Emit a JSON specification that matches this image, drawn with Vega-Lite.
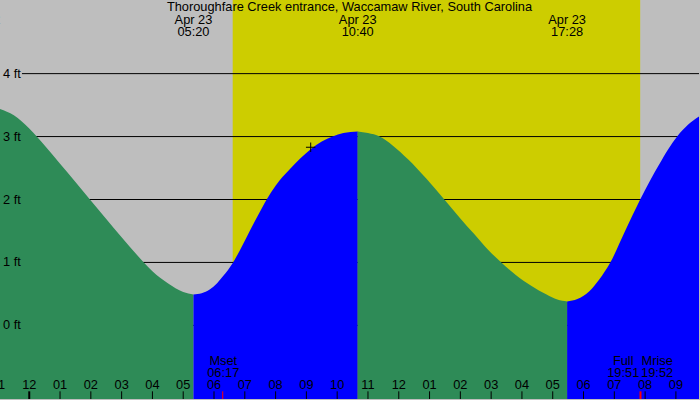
{
  "$schema": "https://vega.github.io/schema/vega-lite/v6.json",
  "width": 700,
  "height": 400,
  "autosize": {"type": "fit", "contains": "padding"},
  "padding": 0,
  "background": "#BEBEBE",
  "config": {
    "view": {"stroke": null},
    "text": {"font": "Liberation Sans", "fontSize": 12.8, "color": "black"}
  },
  "datasets": {
    "daylight": [{"start": 6.607, "end": 19.84}],
    "grid": [{"ft": 0}, {"ft": 1}, {"ft": 2}, {"ft": 3}, {"ft": 4}],
    "ylabels": [
      {"ft": 0, "label": "0 ft"}, {"ft": 1, "label": "1 ft"}, {"ft": 2, "label": "2 ft"},
      {"ft": 3, "label": "3 ft"}, {"ft": 4, "label": "4 ft"}
    ],
    "tide": [
      {"seg": "fall1", "h": -0.95, "ft": 3.44},
      {"seg": "fall1", "h": -0.5, "ft": 3.34},
      {"seg": "fall1", "h": 0.0, "ft": 3.13},
      {"seg": "fall1", "h": 0.5, "ft": 2.86},
      {"seg": "fall1", "h": 1.0, "ft": 2.57},
      {"seg": "fall1", "h": 1.5, "ft": 2.28},
      {"seg": "fall1", "h": 1.97, "ft": 2.0},
      {"seg": "fall1", "h": 2.5, "ft": 1.69},
      {"seg": "fall1", "h": 3.0, "ft": 1.4},
      {"seg": "fall1", "h": 3.5, "ft": 1.12},
      {"seg": "fall1", "h": 3.72, "ft": 1.0},
      {"seg": "fall1", "h": 4.0, "ft": 0.86},
      {"seg": "fall1", "h": 4.5, "ft": 0.67},
      {"seg": "fall1", "h": 5.0, "ft": 0.53},
      {"seg": "fall1", "h": 5.333, "ft": 0.49},
      {"seg": "rise1", "h": 5.333, "ft": 0.49},
      {"seg": "rise1", "h": 5.6, "ft": 0.51},
      {"seg": "rise1", "h": 5.86, "ft": 0.57},
      {"seg": "rise1", "h": 6.1, "ft": 0.67},
      {"seg": "rise1", "h": 6.29, "ft": 0.78},
      {"seg": "rise1", "h": 6.62, "ft": 1.0},
      {"seg": "rise1", "h": 6.9, "ft": 1.25},
      {"seg": "rise1", "h": 7.16, "ft": 1.5},
      {"seg": "rise1", "h": 7.43, "ft": 1.75},
      {"seg": "rise1", "h": 7.71, "ft": 2.0},
      {"seg": "rise1", "h": 8.0, "ft": 2.22},
      {"seg": "rise1", "h": 8.46, "ft": 2.48},
      {"seg": "rise1", "h": 9.14, "ft": 2.8},
      {"seg": "rise1", "h": 9.5, "ft": 2.92},
      {"seg": "rise1", "h": 9.85, "ft": 3.0},
      {"seg": "rise1", "h": 10.2, "ft": 3.055},
      {"seg": "rise1", "h": 10.667, "ft": 3.08},
      {"seg": "fall2", "h": 10.667, "ft": 3.08},
      {"seg": "fall2", "h": 11.0, "ft": 3.055},
      {"seg": "fall2", "h": 11.38, "ft": 3.0},
      {"seg": "fall2", "h": 11.8, "ft": 2.86},
      {"seg": "fall2", "h": 12.3, "ft": 2.64},
      {"seg": "fall2", "h": 12.9, "ft": 2.33},
      {"seg": "fall2", "h": 13.48, "ft": 2.0},
      {"seg": "fall2", "h": 14.0, "ft": 1.7},
      {"seg": "fall2", "h": 14.45, "ft": 1.45},
      {"seg": "fall2", "h": 14.9, "ft": 1.2},
      {"seg": "fall2", "h": 15.33, "ft": 1.0},
      {"seg": "fall2", "h": 15.8, "ft": 0.8},
      {"seg": "fall2", "h": 16.3, "ft": 0.63},
      {"seg": "fall2", "h": 16.8, "ft": 0.49},
      {"seg": "fall2", "h": 17.15, "ft": 0.41},
      {"seg": "fall2", "h": 17.467, "ft": 0.38},
      {"seg": "rise2", "h": 17.467, "ft": 0.38},
      {"seg": "rise2", "h": 17.8, "ft": 0.42},
      {"seg": "rise2", "h": 18.18, "ft": 0.54},
      {"seg": "rise2", "h": 18.51, "ft": 0.73},
      {"seg": "rise2", "h": 18.87, "ft": 1.0},
      {"seg": "rise2", "h": 19.35, "ft": 1.5},
      {"seg": "rise2", "h": 19.84, "ft": 2.0},
      {"seg": "rise2", "h": 20.15, "ft": 2.29},
      {"seg": "rise2", "h": 20.46, "ft": 2.56},
      {"seg": "rise2", "h": 20.75, "ft": 2.8},
      {"seg": "rise2", "h": 21.04, "ft": 3.0},
      {"seg": "rise2", "h": 21.4, "ft": 3.19},
      {"seg": "rise2", "h": 21.75, "ft": 3.32}
    ],
    "hours": [
      {"h": -1, "label": "11"}, {"h": 0, "label": "12"}, {"h": 1, "label": "01"},
      {"h": 2, "label": "02"}, {"h": 3, "label": "03"}, {"h": 4, "label": "04"},
      {"h": 5, "label": "05"}, {"h": 6, "label": "06"}, {"h": 7, "label": "07"},
      {"h": 8, "label": "08"}, {"h": 9, "label": "09"}, {"h": 10, "label": "10"},
      {"h": 11, "label": "11"}, {"h": 12, "label": "12"}, {"h": 13, "label": "01"},
      {"h": 14, "label": "02"}, {"h": 15, "label": "03"}, {"h": 16, "label": "04"},
      {"h": 17, "label": "05"}, {"h": 18, "label": "06"}, {"h": 19, "label": "07"},
      {"h": 20, "label": "08"}, {"h": 21, "label": "09"}
    ],
    "moonTicks": [
      {"h": 6.283, "w": 1},
      {"h": 19.85, "w": 2}
    ],
    "moonLabels": [
      {"h": 6.3, "name": "Mset", "time": "06:17"},
      {"h": 19.29, "name": "Full", "time": "19:51"},
      {"h": 20.39, "name": "Mrise", "time": "19:52"}
    ],
    "extremes": [
      {"h": -1.55, "date": "Apr 22", "time": "22:27"},
      {"h": 5.333, "date": "Apr 23", "time": "05:20"},
      {"h": 10.667, "date": "Apr 23", "time": "10:40"},
      {"h": 17.467, "date": "Apr 23", "time": "17:28"}
    ],
    "title": [{"h": 10.4, "label": "Thoroughfare Creek entrance, Waccamaw River, South Carolina"}],
    "now": [{"h": 9.14, "ft": 2.83}]
  },
  "layer": [
    {
      "data": {"name": "daylight"},
      "mark": {"type": "rect", "color": "#CDCD00"},
      "encoding": {
        "x": {"field": "start", "type": "quantitative", "scale": {"domain": [-0.95, 21.75], "nice": false, "zero": false}, "axis": null},
        "x2": {"field": "end"}
      }
    },
    {
      "data": {"name": "grid"},
      "mark": {"type": "rule", "color": "black", "strokeWidth": 1},
      "encoding": {
        "y": {"field": "ft", "type": "quantitative", "scale": {"domain": [-1.17, 5.17], "nice": false, "zero": false}, "axis": null},
        "x": {"datum": -0.237, "type": "quantitative", "scale": {"domain": [-0.95, 21.75], "nice": false, "zero": false}, "axis": null},
        "x2": {"datum": 21.75}
      }
    },
    {
      "data": {"name": "tide"},
      "mark": {"type": "area", "interpolate": "monotone", "opacity": 1},
      "encoding": {
        "x": {"field": "h", "type": "quantitative", "scale": {"domain": [-0.95, 21.75], "nice": false, "zero": false}, "axis": null},
        "y": {"field": "ft", "type": "quantitative", "stack": null, "scale": {"domain": [-1.17, 5.17], "nice": false, "zero": false}, "axis": null},
        "y2": {"datum": -1.17},
        "color": {"field": "seg", "type": "nominal", "scale": {"domain": ["fall1", "rise1", "fall2", "rise2"], "range": ["#2E8B57", "#0000FF", "#2E8B57", "#0000FF"]}, "legend": null}
      }
    },
    {
      "data": {"name": "ylabels"},
      "mark": {"type": "text", "align": "left", "baseline": "middle"},
      "encoding": {
        "x": {"datum": -0.853, "type": "quantitative", "scale": {"domain": [-0.95, 21.75], "nice": false, "zero": false}, "axis": null},
        "y": {"field": "ft", "type": "quantitative", "scale": {"domain": [-1.17, 5.17], "nice": false, "zero": false}, "axis": null},
        "text": {"field": "label"}
      }
    },
    {
      "data": {"name": "now"},
      "mark": {"type": "point", "shape": "M-1,0L1,0M0,-1L0,1", "size": 90, "filled": false, "stroke": "black", "strokeWidth": 1, "opacity": 1},
      "encoding": {
        "x": {"field": "h", "type": "quantitative", "scale": {"domain": [-0.95, 21.75], "nice": false, "zero": false}, "axis": null},
        "y": {"field": "ft", "type": "quantitative", "scale": {"domain": [-1.17, 5.17], "nice": false, "zero": false}, "axis": null}
      }
    },
    {
      "data": {"name": "hours"},
      "mark": {"type": "rule", "color": "black", "clip": true},
      "encoding": {
        "x": {"field": "h", "type": "quantitative", "scale": {"domain": [-0.95, 21.75], "nice": false, "zero": false}, "axis": null},
        "y": {"datum": -1.048, "type": "quantitative", "scale": {"domain": [-1.17, 5.17], "nice": false, "zero": false}, "axis": null},
        "y2": {"datum": -1.17},
        "strokeWidth": {"condition": {"test": "datum.h === 0", "value": 2}, "value": 1}
      }
    },
    {
      "data": {"name": "hours"},
      "mark": {"type": "text", "align": "center", "baseline": "alphabetic", "clip": true},
      "encoding": {
        "x": {"field": "h", "type": "quantitative", "scale": {"domain": [-0.95, 21.75], "nice": false, "zero": false}, "axis": null},
        "y": {"datum": -1.016, "type": "quantitative", "scale": {"domain": [-1.17, 5.17], "nice": false, "zero": false}, "axis": null},
        "text": {"field": "label"}
      }
    },
    {
      "data": {"name": "moonTicks"},
      "mark": {"type": "rule", "color": "#FF0000"},
      "encoding": {
        "x": {"field": "h", "type": "quantitative", "scale": {"domain": [-0.95, 21.75], "nice": false, "zero": false}, "axis": null},
        "y": {"datum": -1.048, "type": "quantitative", "scale": {"domain": [-1.17, 5.17], "nice": false, "zero": false}, "axis": null},
        "y2": {"datum": -1.17},
        "strokeWidth": {"field": "w", "type": "quantitative", "scale": null}
      }
    },
    {
      "data": {"name": "moonLabels"},
      "mark": {"type": "text", "align": "center", "baseline": "alphabetic"},
      "encoding": {
        "x": {"field": "h", "type": "quantitative", "scale": {"domain": [-0.95, 21.75], "nice": false, "zero": false}, "axis": null},
        "y": {"datum": -0.635, "type": "quantitative", "scale": {"domain": [-1.17, 5.17], "nice": false, "zero": false}, "axis": null},
        "text": {"field": "name"}
      }
    },
    {
      "data": {"name": "moonLabels"},
      "mark": {"type": "text", "align": "center", "baseline": "alphabetic"},
      "encoding": {
        "x": {"field": "h", "type": "quantitative", "scale": {"domain": [-0.95, 21.75], "nice": false, "zero": false}, "axis": null},
        "y": {"datum": -0.825, "type": "quantitative", "scale": {"domain": [-1.17, 5.17], "nice": false, "zero": false}, "axis": null},
        "text": {"field": "time"}
      }
    },
    {
      "data": {"name": "title"},
      "mark": {"type": "text", "align": "center", "baseline": "alphabetic"},
      "encoding": {
        "x": {"field": "h", "type": "quantitative", "scale": {"domain": [-0.95, 21.75], "nice": false, "zero": false}, "axis": null},
        "y": {"datum": 4.989, "type": "quantitative", "scale": {"domain": [-1.17, 5.17], "nice": false, "zero": false}, "axis": null},
        "text": {"field": "label"}
      }
    },
    {
      "data": {"name": "extremes"},
      "mark": {"type": "text", "align": "center", "baseline": "alphabetic", "clip": true},
      "encoding": {
        "x": {"field": "h", "type": "quantitative", "scale": {"domain": [-0.95, 21.75], "nice": false, "zero": false}, "axis": null},
        "y": {"datum": 4.794, "type": "quantitative", "scale": {"domain": [-1.17, 5.17], "nice": false, "zero": false}, "axis": null},
        "text": {"field": "date"}
      }
    },
    {
      "data": {"name": "extremes"},
      "mark": {"type": "text", "align": "center", "baseline": "alphabetic", "clip": true},
      "encoding": {
        "x": {"field": "h", "type": "quantitative", "scale": {"domain": [-0.95, 21.75], "nice": false, "zero": false}, "axis": null},
        "y": {"datum": 4.603, "type": "quantitative", "scale": {"domain": [-1.17, 5.17], "nice": false, "zero": false}, "axis": null},
        "text": {"field": "time"}
      }
    }
  ]
}
